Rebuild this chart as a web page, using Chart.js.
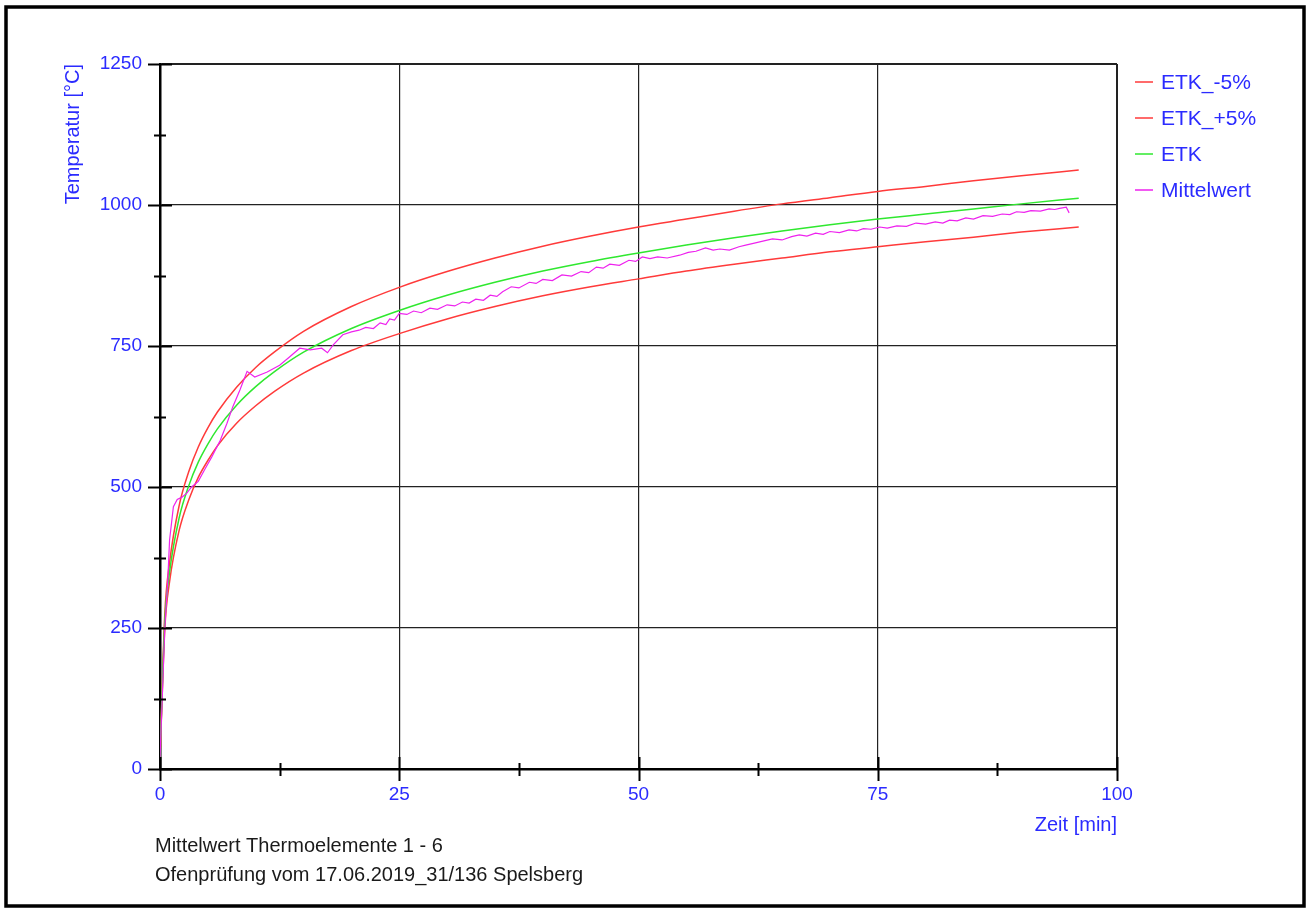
<!DOCTYPE html>
<html>
<head>
<meta charset="utf-8">
<script src="https://cdn.jsdelivr.net/npm/chart.js@4"></script>
<style>
  html, body { margin: 0; padding: 0; background: #fff; }
  canvas { display: block; }
</style>
</head>
<body>
<canvas id="c" width="1311" height="911"></canvas>
<script>
// Zeitachse der ETK-Kurven [min]
const etkTime = [0, 0.5, 1, 2, 3, 4, 5, 6, 8, 10, 12, 15, 20, 25, 30, 35, 40, 45, 50, 55, 60, 65, 70, 75, 80, 85, 90, 96];
const etk      = [20, 261, 349, 445, 502, 544, 576, 603, 645, 678, 705, 739, 781, 813, 840, 863, 883, 900, 915, 929, 942, 954, 965, 975, 984, 993, 1002, 1012];
const etkPlus  = [21, 274, 366, 467, 527, 571, 605, 633, 677, 712, 740, 776, 820, 854, 882, 906, 927, 945, 961, 975, 989, 1002, 1013, 1024, 1033, 1043, 1052, 1062];
const etkMinus = [19, 248, 332, 423, 477, 517, 547, 573, 613, 644, 670, 702, 742, 772, 798, 820, 839, 855, 869, 883, 895, 906, 917, 926, 935, 943, 952, 961];

// Mittelwert Thermoelemente
const mwTime = [0, 0.2, 0.5, 0.8, 1.0, 1.4, 1.8, 2.3, 2.8, 3.3, 4.0, 4.7, 5.4, 6.3, 7.0, 7.6, 8.35, 9.1, 9.9, 11.2, 12.5, 13.5, 14.6, 15.7, 16.9, 17.5, 18.1, 19.1,
  20.0, 20.8, 21.5, 22.3, 23.0, 23.6, 24.0, 24.5, 25.0, 25.8, 26.5, 27.3, 28.2, 29.0, 30.0, 30.8, 31.6, 32.3, 33.0, 33.8, 34.5, 35.2, 35.8, 36.7, 37.5, 38.6, 39.3,
  40.0, 41.0, 42.0, 43.0, 44.0, 44.8, 45.6, 46.3, 47.0, 48.0, 49.0, 49.7, 50.4, 51.2, 52.0, 53.0, 54.3, 55.2, 56.0, 57.0, 57.8, 58.5, 59.5, 60.5, 61.2, 62.0,
  63.0, 64.0, 65.0, 66.0, 66.8, 67.6, 68.5, 69.3, 70.0, 71.0, 72.0, 72.8, 73.5, 74.3, 75.2, 76.0, 77.0, 78.0, 79.0, 80.0, 81.0, 81.8, 82.5, 83.3, 84.2, 85.0,
  86.0, 87.0, 88.0, 88.8, 89.5, 90.3, 91.0, 92.0, 92.9, 93.5, 94.0, 94.7, 95.0];
const mw = [20, 110, 250, 330, 406, 465, 478, 482, 489, 500, 510, 532, 553, 583, 613, 642, 672, 705, 695, 704, 716, 730, 746, 743, 746, 738, 752, 770,
  775, 778, 783, 781, 791, 788, 798, 796, 808, 806, 812, 809, 817, 815, 823, 821, 828, 826, 833, 831, 840, 838, 846, 855, 853, 863, 861,
  868, 866, 876, 874, 882, 880, 890, 888, 895, 893, 902, 900, 908, 905, 908, 906, 911, 916, 918, 924, 920, 922, 920, 926, 929, 932,
  936, 940, 938, 944, 947, 945, 950, 948, 953, 951, 956, 954, 958, 957, 961, 959, 963, 962, 968, 966, 970, 968, 973, 972, 977, 975,
  981, 980, 984, 983, 988, 987, 990, 989, 993, 992, 994, 996, 986];

const seriesLabels = ['ETK_-5%', 'ETK_+5%', 'ETK', 'Mittelwert'];
const seriesColors = ['#ff3a3a', '#ff3a3a', '#2fe82f', '#ee22ee'];

const xTicks = [0, 25, 50, 75, 100];
const yTicks = [0, 250, 500, 750, 1000, 1250];

const BLUE = '#2b2bff';
const FONT = "'Liberation Sans', Arial, sans-serif";

const pts = (xs, ys) => xs.map((x, i) => ({ x: x, y: ys[i] }));

// Achsenstriche, Legende, Fußzeile, Rahmen
const extras = {
  id: 'extras',
  afterDraw(chart) {
    const ctx = chart.ctx;
    const xs = chart.scales.x, ys = chart.scales.y;
    const x0 = xs.getPixelForValue(0), y0 = ys.getPixelForValue(0);
    ctx.save();
    ctx.strokeStyle = '#000';
    ctx.lineWidth = 2;
    ctx.beginPath();
    yTicks.forEach(v => {
      const p = Math.round(ys.getPixelForValue(v)) + 0.5;
      ctx.moveTo(x0 - 12, p); ctx.lineTo(x0 + 12, p);
    });
    for (let v = 125; v < 1250; v += 250) {
      const p = Math.round(ys.getPixelForValue(v)) + 0.5;
      ctx.moveTo(x0 - 6, p); ctx.lineTo(x0 + 6, p);
    }
    xTicks.forEach(v => {
      const p = Math.round(xs.getPixelForValue(v)) + 0.5;
      ctx.moveTo(p, y0 - 12); ctx.lineTo(p, y0 + 12);
    });
    for (let v = 12.5; v < 100; v += 25) {
      const p = Math.round(xs.getPixelForValue(v)) + 0.5;
      ctx.moveTo(p, y0 - 6); ctx.lineTo(p, y0 + 7);
    }
    ctx.stroke();

    // Legende
    ctx.font = '21px ' + FONT;
    ctx.textBaseline = 'middle';
    chart.data.datasets.forEach((ds, i) => {
      const y = 82 + i * 36;
      ctx.strokeStyle = ds.borderColor;
      ctx.lineWidth = 1.5;
      ctx.beginPath();
      ctx.moveTo(1135, y); ctx.lineTo(1153, y);
      ctx.stroke();
      ctx.fillStyle = BLUE;
      ctx.fillText(ds.label, 1161, y + 1);
    });

    // Fußzeile
    ctx.font = '20px ' + FONT;
    ctx.fillStyle = '#1a1a1a';
    ctx.fillText('Mittelwert Thermoelemente 1 - 6', 155, 846);
    ctx.fillText('Ofenprüfung vom 17.06.2019_31/136 Spelsberg', 155, 875);

    // Rahmen
    ctx.strokeStyle = '#000';
    ctx.lineWidth = 3.5;
    ctx.strokeRect(6, 7, 1298, 899);
    ctx.restore();
  }
};

const gridWidth = (ctx) => (ctx.index === ctx.chart.scales[ctx.scale.id].ticks.length - 1 ? 2 : 1.2);

new Chart(document.getElementById('c').getContext('2d'), {
  type: 'line',
  data: {
    datasets: [
      { label: seriesLabels[0], data: pts(etkTime, etkMinus), borderColor: seriesColors[0], order: 3, cubicInterpolationMode: 'monotone' },
      { label: seriesLabels[1], data: pts(etkTime, etkPlus), borderColor: seriesColors[1], order: 2, cubicInterpolationMode: 'monotone' },
      { label: seriesLabels[2], data: pts(etkTime, etk), borderColor: seriesColors[2], order: 1, cubicInterpolationMode: 'monotone' },
      { label: seriesLabels[3], data: pts(mwTime, mw), borderColor: seriesColors[3], order: 0, tension: 0, borderWidth: 1.2 }
    ]
  },
  options: {
    responsive: false,
    animation: false,
    devicePixelRatio: 1,
    elements: {
      point: { radius: 0 },
      line: { borderWidth: 1.5, fill: false }
    },
    layout: { padding: { left: 0, top: 64, right: 194, bottom: 72 } },
    plugins: {
      legend: { display: false },
      tooltip: { enabled: false }
    },
    scales: {
      x: {
        type: 'linear',
        min: 0, max: 100,
        afterFit: s => { s.height = 70; },
        afterBuildTicks: s => { s.ticks = xTicks.map(v => ({ value: v })); },
        ticks: { color: BLUE, font: { family: FONT, size: 19 }, padding: 14, callback: v => String(v) },
        grid: { color: '#222', lineWidth: gridWidth, drawTicks: false },
        border: { display: true, color: '#000', width: 2.5 },
        title: { display: true, text: 'Zeit [min]', align: 'end', color: BLUE, font: { family: FONT, size: 20 }, padding: { top: 0, bottom: 2 } }
      },
      y: {
        type: 'linear',
        min: 0, max: 1250,
        afterFit: s => { s.width = 160; },
        afterBuildTicks: s => { s.ticks = yTicks.map(v => ({ value: v })); },
        ticks: { color: BLUE, font: { family: FONT, size: 19 }, padding: 18, callback: v => String(v) },
        grid: { color: '#222', lineWidth: gridWidth, drawTicks: false },
        border: { display: true, color: '#000', width: 2.5 },
        title: { display: true, text: 'Temperatur [°C]', align: 'end', color: BLUE, font: { family: FONT, size: 20 }, padding: { top: 61, bottom: 0 } }
      }
    }
  },
  plugins: [extras]
});
</script>
</body>
</html>
